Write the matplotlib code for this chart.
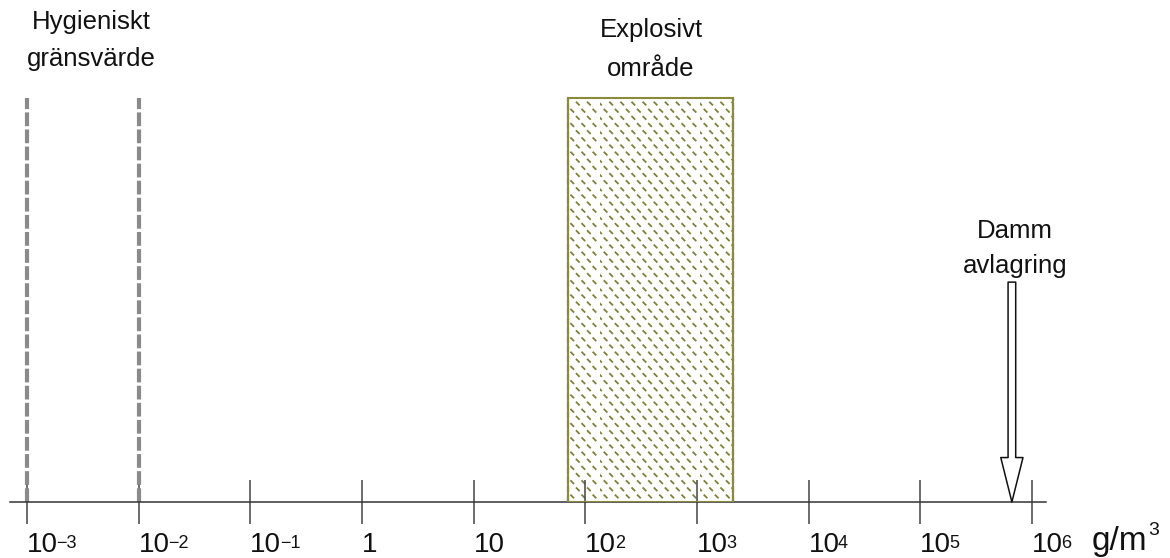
import numpy as np
import matplotlib
matplotlib.use('Agg')
import matplotlib.pyplot as plt
import matplotlib.hatch as mhatch
from matplotlib.path import Path

# concentration scale in g/m3
decades = [1e-3, 1e-2, 1e-1, 1, 10, 1e2, 1e3, 1e4, 1e5, 1e6]
tick_base = ['10', '10', '10', '1', '10', '10', '10', '10', '10', '10']
tick_exp = ['\u22123', '\u22122', '\u22121', '', '', '2', '3', '4', '5', '6']
hygienic = [1e-3, 1e-2]          # hygieniskt gränsvärde
explosive = [70, 2100]           # explosivt område
deposit = 6.6e5                  # dammavlagring
bar_top = 0.805                  # height of the marked regions (axes fraction)
arrow_top = 0.438


# short "\" dashes instead of solid hatch lines
class DashHatch(mhatch.HatchPatternBase):
    def __init__(self, hatch, density):
        n = hatch.count('\\')
        self.nx = 9 * n
        self.ny = 14 * n
        self.num_vertices = self.nx * self.ny * 2

    def set_vertices_and_codes(self, vertices, codes):
        if self.num_vertices == 0:
            return
        i, j = np.meshgrid(np.arange(self.nx), np.arange(self.ny))
        cx = ((i + 0.5 + 0.5 * (j % 2)) / self.nx).ravel() % 1.0
        cy = ((j + 0.5) / self.ny).ravel()
        h = 0.012
        vertices[0::2, 0] = cx - h
        vertices[0::2, 1] = cy + h
        vertices[1::2, 0] = cx + h
        vertices[1::2, 1] = cy - h
        codes[0::2] = Path.MOVETO
        codes[1::2] = Path.LINETO


mhatch._hatch_types = [DashHatch if t.__name__ in ('SouthEastHatch', 'SouthWestHatch') else t
                       for t in mhatch._hatch_types]

plt.rcParams['font.family'] = ['Liberation Sans', 'DejaVu Sans']
plt.rcParams['hatch.linewidth'] = 1.3

W, H = 1170, 558
fig = plt.figure(figsize=(W / 100, H / 100), dpi=100)
ax = fig.add_axes([10 / W, 56 / H, 1036 / W, 502 / H])
ax.set_xscale('log')
ax.set_xlim(10 ** -3.152, 10 ** 6.125)
ax.set_ylim(0, 1)
for s in ['top', 'left', 'right']:
    ax.spines[s].set_visible(False)
ax.spines['bottom'].set_color('#333333')
ax.spines['bottom'].set_linewidth(1.1)
ax.set_yticks([])
ax.set_xticks(decades)
ax.xaxis.set_minor_locator(matplotlib.ticker.NullLocator())
ax.tick_params(axis='x', direction='inout', length=32, width=1.1,
               color='#444444', labelbottom=False)

# tick labels, left aligned at the tick, with small raised exponent
for x, base, ex in zip(decades, tick_base, tick_exp):
    t = ax.text(x, -50 / 502, base, transform=ax.get_xaxis_transform(),
                ha='left', va='baseline', fontsize=20, color='#111111', clip_on=False)
    if ex:
        ax.annotate(ex, xy=(1, 0), xycoords=t, xytext=(-1.2, 7.5),
                    textcoords='offset points', ha='left', va='baseline',
                    fontsize=13, color='#111111', annotation_clip=False)
unit = ax.text(1082 / 1036, -48 / 502, 'g/m', transform=ax.transAxes,
               ha='left', va='baseline', fontsize=24, color='#111111', clip_on=False)
ax.annotate('3', xy=(1, 0), xycoords=unit, xytext=(0.5, 16),
            textcoords='offset points', ha='left', va='baseline',
            fontsize=14, color='#111111', annotation_clip=False)

# hygienic limits
ax.vlines(hygienic, 0, bar_top, colors='#8a8a8a', linewidth=3,
          linestyles=(0, (3.3, 0.8)), zorder=2)

# explosive range
ax.axvspan(explosive[0], explosive[1], ymin=0, ymax=bar_top, facecolor='white',
           edgecolor='#80803c', hatch='\\', linewidth=0, zorder=1)
ax.vlines(explosive, 0, bar_top, colors='#666666', linewidth=1.6,
          linestyles=(0, (3, 1.2)), zorder=3)
ax.axvspan(explosive[0], explosive[1], ymin=0, ymax=bar_top, facecolor='none',
           edgecolor='#8a8a3a', linewidth=1.5, zorder=4)

# dust deposit arrow
ax.annotate('', xy=(deposit, 0), xytext=(deposit, arrow_top),
            arrowprops=dict(arrowstyle='simple,head_length=3.2,head_width=1.6,tail_width=0.55',
                            mutation_scale=10, fc='white', ec='#111111', lw=1.1,
                            shrinkA=0, shrinkB=0), zorder=5)

fig.text(91 / W, 1 - 9.5 / H, 'Hygieniskt\ngränsvärde', ha='center', va='top',
         fontsize=18.5, linespacing=1.72, color='#111111')
fig.text(651 / W, 1 - 17.5 / H, 'Explosivt\nområde', ha='center', va='top',
         fontsize=18.5, linespacing=1.83, color='#111111')
fig.text(1015 / W, 1 - 219.5 / H, 'Damm\navlagring', ha='center', va='top',
         fontsize=18.5, linespacing=1.55, color='#111111')

fig.savefig('out.png', dpi=100)
